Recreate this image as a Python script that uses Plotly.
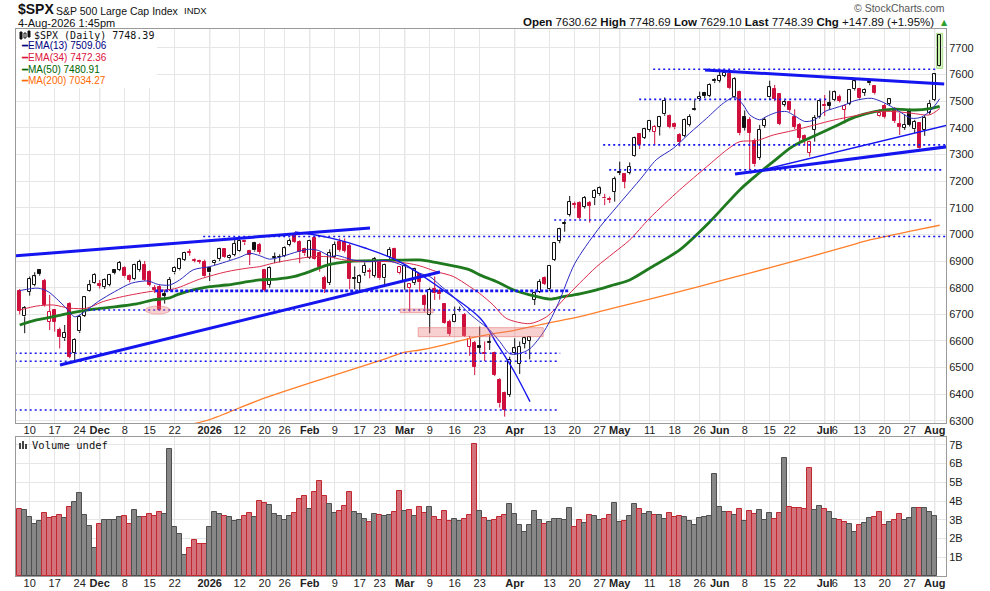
import pandas as pd
import plotly.graph_objects as go

HOLIDAYS = ["2025-11-27", "2025-12-25", "2026-01-01", "2026-01-19", "2026-02-16",
            "2026-04-03", "2026-05-25", "2026-06-19", "2026-07-03"]
DAYS = list(pd.bdate_range("2025-11-06", "2026-08-04", freq="C",
                           holidays=HOLIDAYS).strftime("%Y-%m-%d"))

OPEN = [
    6788, 6692, 6784, 6810, 6867, 6825, 6673, 6716, 6641, 6610,
    6738, 6556, 6636, 6695, 6788, 6819, 6812, 6804, 6810, 6866,
    6867, 6875, 6845, 6832, 6867, 6885, 6860, 6798, 6804, 6776,
    6793, 6857, 6869, 6904, 6935, 6905, 6900, 6898, 6875, 6892,
    6907, 6944, 6910, 6923, 6939, 6975, 6938, 6967, 6960, 6867,
    6810, 6915, 6916, 6920, 6960, 6998, 6973, 6944, 6913, 6985,
    6929, 6838, 6817, 6917, 6973, 6973, 6957, 6836, 6817, 6854,
    6862, 6844, 6898, 6835, 6914, 6944, 6854, 6823, 6798, 6817,
    6850, 6769, 6698, 6794, 6788, 6739, 6673, 6673, 6718, 6698,
    6579, 6591, 6580, 6553, 6596, 6554, 6454, 6404, 6397, 6554,
    6514, 6589, 6601, 6754, 6785, 6835, 6794, 6904, 6976, 7042,
    7073, 7115, 7119, 7104, 7117, 7136, 7151, 7138, 7134, 7161,
    7234, 7226, 7232, 7295, 7376, 7363, 7392, 7386, 7405, 7451,
    7445, 7415, 7373, 7370, 7411, 7470, 7507, 7530, 7520, 7578,
    7577, 7595, 7602, 7515, 7536, 7440, 7430, 7352, 7286, 7408,
    7514, 7546, 7526, 7486, 7496, 7440, 7410, 7370, 7307, 7392,
    7440, 7485, 7495, 7505, 7517, 7467, 7490, 7545, 7545, 7532,
    7573, 7557, 7443, 7482, 7490, 7470, 7413, 7401, 7462, 7395,
    7417, 7392, 7457, 7505, 7630.62,
]
HIGH = [
    6795, 6731, 6842, 6858, 6870, 6833, 6773, 6720, 6650, 6660,
    6745, 6610, 6698, 6768, 6829, 6854, 6829, 6835, 6852, 6870,
    6900, 6880, 6850, 6890, 6905, 6900, 6865, 6810, 6810, 6790,
    6840, 6880, 6912, 6935, 6945, 6910, 6905, 6905, 6878, 6905,
    6950, 6948, 6925, 6985, 6982, 6980, 6942, 6972, 6968, 6870,
    6880, 6932, 6925, 6955, 6985, 7008, 6978, 6950, 6980, 6995,
    6935, 6845, 6944, 6973, 6985, 6985, 6965, 6880, 6850, 6895,
    6873, 6915, 6905, 6890, 6952, 6950, 6880, 6886, 6815, 6875,
    6855, 6775, 6800, 6842, 6795, 6742, 6680, 6729, 6729, 6705,
    6619, 6600, 6654, 6598, 6622, 6560, 6460, 6410, 6541, 6610,
    6598, 6616, 6617, 6785, 6832, 6842, 6885, 6970, 7025, 7052,
    7144, 7123, 7124, 7144, 7125, 7170, 7180, 7152, 7142, 7217,
    7273, 7230, 7270, 7367, 7380, 7400, 7430, 7410, 7445, 7514,
    7450, 7420, 7380, 7435, 7451, 7505, 7536, 7535, 7567, 7586,
    7615, 7617, 7607, 7590, 7540, 7465, 7440, 7360, 7411, 7440,
    7577, 7561, 7530, 7505, 7500, 7470, 7418, 7375, 7352, 7448,
    7505, 7523, 7540, 7540, 7525, 7488, 7546, 7580, 7550, 7548,
    7576, 7560, 7470, 7490, 7512, 7478, 7455, 7450, 7473, 7430,
    7420, 7445, 7505, 7605, 7748.69,
]
LOW = [
    6700, 6629, 6770, 6805, 6845, 6729, 6641, 6635, 6572, 6600,
    6535, 6522, 6630, 6690, 6785, 6815, 6797, 6795, 6805, 6850,
    6862, 6838, 6820, 6828, 6860, 6825, 6805, 6780, 6713, 6740,
    6788, 6850, 6865, 6900, 6920, 6895, 6890, 6838, 6825, 6885,
    6900, 6912, 6905, 6918, 6935, 6960, 6885, 6935, 6925, 6785,
    6800, 6892, 6895, 6915, 6955, 6968, 6892, 6920, 6908, 6905,
    6860, 6780, 6810, 6910, 6935, 6932, 6794, 6794, 6780, 6845,
    6835, 6838, 6830, 6810, 6905, 6900, 6850, 6792, 6710, 6810,
    6785, 6710, 6629, 6754, 6755, 6665, 6619, 6670, 6710, 6615,
    6544, 6472, 6554, 6525, 6566, 6468, 6350, 6316, 6390, 6548,
    6476, 6572, 6531, 6735, 6780, 6810, 6788, 6900, 6967, 7010,
    7067, 7098, 7056, 7097, 7044, 7110, 7145, 7110, 7118, 7123,
    7223, 7173, 7225, 7292, 7320, 7358, 7385, 7336, 7371, 7445,
    7398, 7395, 7330, 7365, 7405, 7465, 7500, 7512, 7515, 7568,
    7570, 7590, 7545, 7510, 7372, 7390, 7242, 7255, 7280, 7400,
    7505, 7500, 7410, 7480, 7460, 7395, 7350, 7340, 7292, 7348,
    7435, 7445, 7467, 7500, 7495, 7417, 7485, 7540, 7505, 7520,
    7560, 7525, 7440, 7435, 7485, 7418, 7373, 7392, 7405, 7380,
    7320, 7370, 7450, 7500, 7629.10,
]
CLOSE = [
    6714, 6725, 6832, 6842, 6851, 6735, 6710, 6673, 6614, 6630,
    6541, 6604, 6691, 6764, 6809, 6848, 6808, 6829, 6848, 6856,
    6894, 6842, 6830, 6885, 6898, 6829, 6810, 6793, 6716, 6769,
    6830, 6875, 6906, 6932, 6930, 6900, 6897, 6842, 6857, 6900,
    6944, 6917, 6919, 6964, 6975, 6970, 6923, 6940, 6935, 6792,
    6873, 6912, 6915, 6948, 6975, 6972, 6933, 6929, 6975, 6908,
    6879, 6795, 6929, 6960, 6942, 6938, 6832, 6833, 6842, 6882,
    6860, 6906, 6835, 6885, 6942, 6907, 6877, 6882, 6813, 6869,
    6823, 6735, 6792, 6779, 6775, 6669, 6626, 6698, 6715, 6619,
    6606, 6504, 6574, 6550, 6592, 6472, 6366, 6341, 6529, 6572,
    6579, 6610, 6613, 6779, 6823, 6814, 6883, 6967, 7019, 7040,
    7123, 7110, 7061, 7136, 7107, 7163, 7173, 7135, 7130, 7207,
    7232, 7198, 7254, 7361, 7336, 7395, 7426, 7405, 7440, 7502,
    7405, 7402, 7346, 7430, 7442, 7468, 7515, 7520, 7561, 7575,
    7596, 7607, 7549, 7582, 7380, 7401, 7382, 7263, 7392, 7430,
    7552, 7509, 7415, 7496, 7467, 7405, 7362, 7355, 7348, 7436,
    7499, 7481, 7483, 7533, 7502, 7482, 7542, 7574, 7511, 7542,
    7567, 7530, 7457, 7440, 7507, 7425, 7405, 7411, 7412, 7423,
    7323, 7438, 7490, 7600.50, 7748.39,
]
# billions of shares; today's bar has no volume yet ("Volume undef")
VOLUME_B = [
    3.58, 3.53, 3.15, 2.77, 2.94, 3.37, 3.10, 3.15, 3.26, 3.10,
    3.69, 3.96, 4.44, 3.26, 2.67, 1.49, 2.77, 2.99, 2.99, 2.99,
    3.15, 3.20, 2.77, 3.53, 3.15, 3.15, 3.31, 3.20, 3.42, 3.31,
    6.80, 2.61, 2.24, 1.11, 1.49, 1.92, 1.70, 1.70, 2.61, 3.42,
    3.31, 3.20, 3.15, 2.94, 2.99, 3.20, 3.37, 3.15, 4.01, 3.90,
    3.80, 3.31, 3.20, 2.99, 3.20, 3.37, 4.12, 4.28, 3.58, 4.49,
    5.08, 4.28, 3.85, 3.37, 3.47, 3.74, 4.49, 3.42, 3.31, 3.04,
    2.88, 3.31, 3.26, 3.20, 3.26, 3.42, 4.55, 3.47, 3.53, 3.20,
    3.69, 3.37, 3.69, 3.15, 2.99, 3.47, 2.94, 3.04, 2.94, 3.04,
    3.26, 7.02, 3.47, 3.10, 2.94, 2.99, 3.15, 3.26, 3.85, 3.31,
    2.72, 2.35, 2.72, 3.47, 2.99, 2.77, 2.88, 3.04, 3.04, 2.99,
    3.63, 2.61, 2.99, 2.83, 3.26, 3.20, 2.99, 3.04, 3.26, 3.90,
    2.88, 2.94, 3.20, 3.85, 3.58, 3.31, 3.42, 3.26, 3.26, 3.04,
    3.37, 3.15, 3.20, 3.15, 2.94, 2.72, 3.10, 3.15, 3.20, 5.46,
    3.69, 3.42, 3.42, 3.26, 3.58, 2.94, 3.47, 3.31, 3.53, 2.99,
    3.37, 3.04, 3.37, 6.32, 3.69, 3.63, 3.63, 3.58, 5.78, 3.53,
    3.74, 3.58, 3.42, 3.04, 2.99, 2.88, 2.77, 2.35, 2.72, 2.83,
    3.10, 3.15, 3.42, 2.72, 2.88, 2.99, 3.31, 2.99, 3.10, 3.63,
    3.63, 3.63, 3.42, 3.20, None,
]

# overlays at bar positions (0 = first session)
EMA13_AT = [0, 3.7, 5.7, 9, 11, 13, 15.7, 19, 22.4, 25.7, 27.7, 30, 32, 34.7, 38, 41.4,
            44, 46, 48, 50, 53, 55, 57.7, 59.7, 62.3, 63.4, 66.7, 70, 73.4, 75.4, 78, 80,
            82, 84, 86.7, 89.4, 91.4, 94, 96, 98, 100, 102, 105, 107.7, 111, 115.6, 120.3,
            124.3, 127.3, 130.7, 134, 137.4, 140.7, 143, 144.7, 146, 148, 149.3, 151.4,
            153.4, 155, 157, 159, 161, 163, 165, 167, 170.3, 172.3, 174.3, 176.3, 178.3,
            180.3, 182.3, 184]
EMA13 = [6789, 6798, 6785, 6729, 6691, 6710, 6748, 6785, 6817, 6825, 6812, 6810, 6829,
         6867, 6879, 6898, 6914, 6929, 6920, 6907, 6920, 6932, 6944, 6940, 6917, 6921,
         6904, 6898, 6902, 6892, 6873, 6854, 6842, 6810, 6767, 6712, 6680, 6641, 6598,
         6552, 6553, 6570, 6640, 6740, 6890, 7017, 7123, 7211, 7280, 7323, 7380, 7436,
         7492, 7515, 7486, 7449, 7430, 7442, 7458, 7461, 7445, 7424, 7430, 7461, 7474,
         7486, 7502, 7511, 7499, 7480, 7457, 7436, 7440, 7467, 7509.06]
EMA34_AT = [0, 3.4, 6.7, 10, 13.4, 16.7, 20, 23.4, 27.4, 31, 36, 41.4, 45.4, 48, 50.7, 55,
            59, 62.3, 64, 68, 73.4, 77.4, 80, 83.4, 86.7, 90, 92, 94.7, 97.3, 102, 105.4,
            108.7, 112, 115.4, 118.7, 122, 126, 132, 137.4, 141.4, 144, 147.4, 150.7,
            154.7, 159, 163, 167, 171, 175, 178.3, 182, 184]
EMA34 = [6716, 6731, 6735, 6723, 6723, 6748, 6764, 6777, 6789, 6796, 6832, 6860, 6873,
         6879, 6892, 6907, 6917, 6915, 6907, 6898, 6898, 6892, 6882, 6860, 6842, 6804,
         6778, 6735, 6685, 6665, 6691, 6754, 6817, 6879, 6929, 6979, 7061, 7167, 7254,
         7317, 7348, 7352, 7373, 7390, 7411, 7430, 7445, 7461, 7461, 7455, 7449, 7472.36]
MA50_AT = [0, 3.4, 6.7, 10, 13.4, 16.7, 23.4, 26.7, 30, 31.4, 34.7, 38, 41.4, 48, 51.4, 55,
           58, 61, 63.4, 66.7, 73.4, 80, 83.4, 86.7, 90, 92, 95.3, 98.7, 102, 106, 108.7,
           112, 115.4, 118.7, 122, 126, 132, 138, 144, 147.4, 150.7, 154, 156, 159, 163,
           167, 171, 175, 179, 182, 184]
MA50 = [6660, 6679, 6691, 6704, 6716, 6723, 6739, 6754, 6762, 6773, 6792, 6804, 6810,
        6829, 6832, 6842, 6860, 6882, 6892, 6900, 6902, 6904, 6894, 6882, 6867, 6848,
        6823, 6792, 6773, 6757, 6766, 6777, 6792, 6810, 6829, 6873, 6942, 7047, 7167,
        7223, 7273, 7323, 7345, 7370, 7405, 7440, 7461, 7470, 7467, 7472, 7480.91]
MA200_AT = [33, 38, 48, 60, 66.7, 73.4, 76.7, 80, 83.4, 86.7, 90, 94, 98.7, 105.4, 112,
            118.7, 126, 136, 146, 156, 166, 170, 178.7, 184]
MA200 = [6282, 6305, 6379, 6454, 6494, 6535, 6556, 6566, 6579, 6594, 6610, 6625, 6639,
         6666, 6691, 6723, 6757, 6805, 6855, 6905, 6958, 6979, 7014, 7034.27]

# hand-drawn annotations: (bar, price) end points
THICK_TRENDS = [(-3.94, 6915, 70.06, 7024), (8.06, 6510, 84.06, 6859),
                (137.06, 7617, 184.9, 7565), (143.06, 7227, 186.7, 7332)]
THIN_TRENDS = [(146.06, 7231, 187.06, 7417)]
ARC_AT = [55.06, 62.06, 69.06, 76.06, 84.06, 92.06, 95.4, 98.72, 102.06]
ARC = [7009, 6987, 6949, 6897, 6799, 6686, 6591, 6491, 6372]
LEVEL_PRICE = [7620, 7507, 7336, 7242, 7054, 6992, 6716, 6554, 6524, 6341]
LEVEL_FROM = [126.7, 123.9, 116.7, 117.9, 106.9, 36.7, 13.7, -1, -1, -1]
LEVEL_TO = [183.1, 161.7, 185.5, 184.5, 182.9, 185.5, 111.1, 108.1, 107.5, 107.9]
BOLD_LEVEL = (6788, 27.1, 110.1)
PINK_OVAL = (25.1, 30.1, 6701, 6731)
PINK_BOXES = [(76.1, 82.7, 6706, 6720), (79.7, 104.7, 6616, 6650)]

TICK_DAYS = ["2025-11-10", "2025-11-17", "2025-11-24", "2025-12-01", "2025-12-08",
             "2025-12-15", "2025-12-22", "2026-01-02", "2026-01-12", "2026-01-20",
             "2026-01-26", "2026-02-02", "2026-02-09", "2026-02-17", "2026-02-23",
             "2026-03-02", "2026-03-09", "2026-03-16", "2026-03-23", "2026-04-01",
             "2026-04-13", "2026-04-20", "2026-04-27", "2026-05-01", "2026-05-11",
             "2026-05-18", "2026-05-26", "2026-06-01", "2026-06-08", "2026-06-15",
             "2026-06-22", "2026-07-01", "2026-07-06", "2026-07-13", "2026-07-20",
             "2026-07-27", "2026-08-03"]
TICK_TEXT = ["10", "17", "24", "<b>Dec</b>", "8", "15", "22", "<b>2026</b>", "12", "20",
             "26", "<b>Feb</b>", "9", "17", "23", "<b>Mar</b>", "9", "16", "23", "<b>Apr</b>",
             "13", "20", "27", "<b>May</b>", "11", "18", "26", "<b>Jun</b>", "8", "15",
             "22", "<b>Jul</b>", "6", "13", "20", "27", "<b>Aug</b>"]
MONTH_DAYS = ["2025-12-01", "2026-01-02", "2026-02-02", "2026-03-02", "2026-04-01",
              "2026-05-01", "2026-06-01", "2026-07-01", "2026-08-03"]
PRICE_TICKS = list(range(6300, 7701, 100))
VOLUME_TICKS = [1, 2, 3, 4, 5, 6, 7]
LEGEND_ROWS = [("EMA(13)", "7509.06", "#000080"), ("EMA(34)", "7472.36", "#dc143c"),
               ("MA(50)", "7480.91", "#006400"), ("MA(200)", "7034.27", "#ff6a00")]

assert len(OPEN) == len(HIGH) == len(LOW) == len(CLOSE) == len(VOLUME_B) == len(DAYS)

# page geometry (pixels)
LEFT, RIGHT, TOP, BOTTOM = 16, 946, 29, 576
PRICE_BOTTOM, VOLUME_TOP = 423, 437


def across(x):
    return (x - LEFT) / (RIGHT - LEFT)


def down(y):
    return (BOTTOM - y) / (BOTTOM - TOP)


RED = "#d0103c"
BLACK = "#111111"
BLUE = "#1515f0"
bars = list(range(len(DAYS)))
prev_close = [OPEN[0]] + CLOSE[:-1]
falling = [c < p for c, p in zip(CLOSE, prev_close)]
edge = [RED if f else BLACK for f in falling]
fill = ["white" if c >= o else e for o, c, e in zip(OPEN, CLOSE, edge)]
fill[-1] = "#c6f1a6"

fig = go.Figure()

# wicks, split around the body so hollow candles stay hollow
for colour in (BLACK, RED):
    xs, ys = [], []
    for n in bars:
        if edge[n] != colour:
            continue
        top, bottom = max(OPEN[n], CLOSE[n]), min(OPEN[n], CLOSE[n])
        xs += [n, n, None, n, n, None]
        ys += [HIGH[n], top, None, bottom, LOW[n], None]
    fig.add_trace(go.Scatter(x=xs, y=ys, mode="lines", line={"color": colour, "width": 1},
                             hoverinfo="skip"))

fig.add_trace(go.Bar(
    x=bars,
    y=[abs(c - o) for o, c in zip(OPEN, CLOSE)],
    base=[min(o, c) for o, c in zip(OPEN, CLOSE)],
    width=0.66,
    marker={"color": fill, "line": {"color": edge, "width": 1}},
    hoverinfo="skip",
))

for at, values, colour, width in ((MA200_AT, MA200, "#ff7f2a", 1.3),
                                  (MA50_AT, MA50, "#1f7a1f", 2.8),
                                  (EMA34_AT, EMA34, "#dc2a4a", 1.0),
                                  (EMA13_AT, EMA13, "#2a2ac0", 1.0)):
    fig.add_trace(go.Scatter(x=at, y=values, mode="lines", hoverinfo="skip",
                             line={"color": colour, "width": width, "shape": "spline",
                                   "smoothing": 0.8}))

for price, start, end in zip(LEVEL_PRICE, LEVEL_FROM, LEVEL_TO):
    fig.add_trace(go.Scatter(x=[start, end], y=[price, price], mode="lines", hoverinfo="skip",
                             line={"color": BLUE, "width": 1.6, "dash": "2px,3px"}))
fig.add_trace(go.Scatter(x=[BOLD_LEVEL[1], BOLD_LEVEL[2]], y=[BOLD_LEVEL[0]] * 2,
                         mode="lines", hoverinfo="skip",
                         line={"color": BLUE, "width": 2.8, "dash": "3px,2px"}))

for x0, y0, x1, y1 in THICK_TRENDS:
    fig.add_trace(go.Scatter(x=[x0, x1], y=[y0, y1], mode="lines", hoverinfo="skip",
                             line={"color": BLUE, "width": 3}))
for x0, y0, x1, y1 in THIN_TRENDS:
    fig.add_trace(go.Scatter(x=[x0, x1], y=[y0, y1], mode="lines", hoverinfo="skip",
                             line={"color": BLUE, "width": 1.4}))
fig.add_trace(go.Scatter(x=ARC_AT, y=ARC, mode="lines", hoverinfo="skip",
                         line={"color": BLUE, "width": 1.4, "shape": "spline"}))

fig.add_trace(go.Bar(
    x=bars, y=VOLUME_B, width=1.0, xaxis="x2", yaxis="y2", hoverinfo="skip",
    marker={"color": ["#d4727c" if f else "#878787" for f in falling],
            "line": {"color": ["#c1272f" if f else "#4f4f4f" for f in falling], "width": 1}},
))

# light-green highlight behind today's bar
last = bars[-1]
fig.add_shape(type="rect", xref="x", yref="y", x0=last - 0.6, x1=last + 0.6,
              y0=LOW[-1] - 6, y1=HIGH[-1] + 6, layer="below",
              fillcolor="#d9f6c6", line={"color": "#a9de8a", "width": 1})

x0, x1, y0, y1 = PINK_OVAL
fig.add_shape(type="circle", xref="x", yref="y", x0=x0, x1=x1, y0=y0, y1=y1,
              fillcolor="rgba(236,120,120,0.35)", line={"color": "rgba(225,110,110,0.45)", "width": 1})
for x0, x1, y0, y1 in PINK_BOXES:
    fig.add_shape(type="rect", xref="x", yref="y", x0=x0, x1=x1, y0=y0, y1=y1,
                  fillcolor="rgba(236,120,120,0.35)", line={"color": "rgba(225,110,110,0.55)", "width": 1})

for day in MONTH_DAYS:
    spot = DAYS.index(day)
    for xref, yref in (("x", "y domain"), ("x2", "y2 domain")):
        fig.add_shape(type="line", xref=xref, yref=yref, x0=spot, x1=spot, y0=0, y1=1,
                      layer="below", line={"color": "#c2c2c2", "width": 1})

# legend box, top left of the price panel
fig.add_shape(type="rect", xref="paper", yref="paper", x0=across(LEFT + 0.5), x1=across(157),
              y0=down(88), y1=down(TOP + 0.5), fillcolor="white", layer="above",
              line={"width": 0})
for left, top, bottom, solid in ((20, 32, 39, True), (24, 33, 38, False), (28, 31, 37, True)):
    fig.add_shape(type="rect", xref="paper", yref="paper", x0=across(left), x1=across(left + 2),
                  y0=down(bottom), y1=down(top), layer="above",
                  fillcolor=BLACK if solid else "white", line={"color": BLACK, "width": 1})
for left, top in ((19, 443), (22, 441), (25, 444)):
    fig.add_shape(type="rect", xref="paper", yref="paper", x0=across(left), x1=across(left + 2),
                  y0=down(449), y1=down(top), fillcolor="#444", line={"width": 0})

notes = [
    ("<b>$SPX</b>", 16, 9.5, 14, "Liberation Sans", "#111", "left"),
    ("S&P 500 Large Cap Index", 54, 10.5, 10.5, "Liberation Sans", "#111", "left"),
    ("INDX", 182, 11, 9.5, "Liberation Sans", "#111", "left"),
    ("4-Aug-2026 1:45pm", 16, 23, 11, "Liberation Sans", "#111", "left"),
    ("© StockCharts.com", 947, 8.5, 10.5, "Liberation Sans", "#555", "right"),
    (f"$SPX (Daily) {CLOSE[-1]:.2f}", 32, 35.5, 10, "DejaVu Sans Mono", "#111", "left"),
    ("Volume undef", 30, 444.5, 10.5, "DejaVu Sans Mono", "#111", "left"),
]
change = CLOSE[-1] - CLOSE[-2]
notes.append((f"<b>Open</b> {OPEN[-1]:.2f} <b>High</b> {HIGH[-1]:.2f} <b>Low</b> {LOW[-1]:.2f} "
              f"<b>Last</b> {CLOSE[-1]:.2f} <b>Chg</b> {change:+.2f} ({change / CLOSE[-2] * 100:+.2f}%)",
              936, 22, 11.5, "Liberation Sans", "#111", "right"))
notes.append(("▲", 939, 22, 8, "DejaVu Sans", "#2e9e2e", "left"))
for row, (name, value, colour) in enumerate(LEGEND_ROWS):
    notes.append((f"━{name} {value}", 19, 46 + row * 11.5, 10, "Liberation Sans", colour, "left"))

for text, x, y, size, family, colour, anchor in notes:
    fig.add_annotation(text=text, xref="paper", yref="paper", x=across(x), y=down(y),
                       xanchor=anchor, yanchor="middle", showarrow=False,
                       font={"family": family, "size": size, "color": colour})

tick_spots = [DAYS.index(day) for day in TICK_DAYS]
common_x = dict(range=[-0.74, 185.26], tickmode="array", tickvals=tick_spots, ticktext=TICK_TEXT,
                tickangle=0, ticks="", showgrid=True, gridcolor="#e6e6e6", zeroline=False,
                showline=True, mirror=True, linecolor="#9a9a9a", linewidth=1,
                ticklabelstandoff=-3,
                tickfont={"size": 11, "color": "#222"}, automargin=False)
common_y = dict(side="right", ticks="", showgrid=True, gridcolor="#e6e6e6", zeroline=False,
                showline=True, mirror=True, linecolor="#9a9a9a", linewidth=1,
                tickfont={"size": 11, "color": "#222"}, automargin=False)

fig.update_layout(
    template="none",
    width=990,
    height=591,
    margin={"l": LEFT, "r": 990 - RIGHT, "t": TOP, "b": 591 - BOTTOM},
    paper_bgcolor="white",
    plot_bgcolor="white",
    font={"family": "Liberation Sans, Arial, sans-serif", "size": 11, "color": "#222"},
    showlegend=False,
    hovermode=False,
    bargap=0,
    xaxis={**common_x, "anchor": "y", "domain": [0, 1]},
    xaxis2={**common_x, "anchor": "y2", "domain": [0, 1], "matches": "x"},
    yaxis={**common_y, "domain": [down(PRICE_BOTTOM), 1], "range": [6292, 7771],
           "tickvals": PRICE_TICKS},
    yaxis2={**common_y, "domain": [0, down(VOLUME_TOP)], "range": [0, 7.42],
            "tickvals": VOLUME_TICKS, "ticktext": [f"{v}B" for v in VOLUME_TICKS]},
)

# the page's default 8px body margin would push the chart off the 990x591 window
fig.write_html("out.html", config={"displayModeBar": False},
               post_script="document.body.style.margin = '0';")
